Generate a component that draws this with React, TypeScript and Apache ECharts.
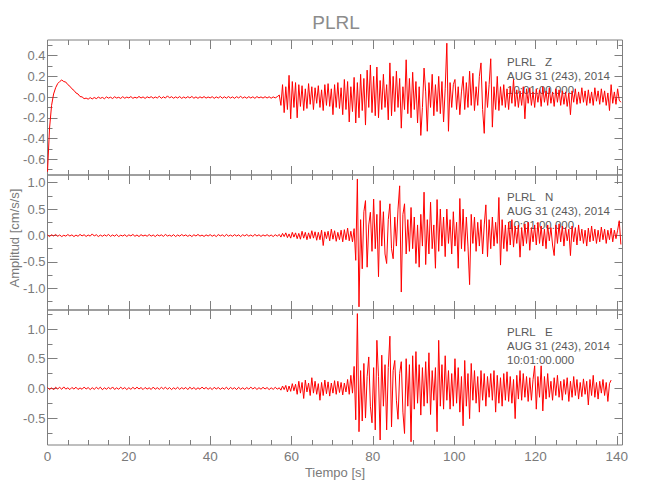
import React, { useEffect, useRef } from 'react';
import * as echarts from 'echarts';

const PRE_DT = 0.5;      // s, samples before 57 s
const CODA_T0 = 57;      // s, start of the coda samples
const CODA_DT = 0.4;     // s
const X_MAX = 141.4;

const X_MAJOR = [0, 20, 40, 60, 80, 100, 120, 140];
const X_LABELS = ['0', '20', '40', '60', '80', '100', '120', '140'];
const X_MINOR = [5, 10, 15, 25, 30, 35, 45, 50, 55, 65, 70, 75, 85, 90, 95, 105, 110, 115, 125, 130, 135];

// ---- Z component ----
const Z_RANGE = [-0.752, 0.551];
const Z_TICKS = [-0.6, -0.4, -0.2, 0, 0.2, 0.4];
const Z_TICK_LABELS = ['-0.6', '-0.4', '-0.2', '-0.0', '0.2', '0.4'];
const Z_MINOR = [-0.7, -0.5, -0.3, -0.1, 0.1, 0.3, 0.5];
const Z_PRE = [
  -0.72, -0.30, -0.08, 0.03, 0.09, 0.13, 0.15, 0.165, 0.15, 0.145,
  0.12, 0.105, 0.08, 0.065, 0.04, 0.03, 0.005, 0.002, -0.015, -0.01,
  -0.02, -0.005, -0.018, -0.004, -0.015, 0.000, -0.012, -0.003, -0.016, 0.002,
  -0.010, -0.001, -0.014, 0.003, -0.009, -0.002, -0.013, 0.004, -0.011, 0.000,
  -0.008, 0.005, -0.012, -0.001, -0.010, 0.006, -0.009, 0.002, -0.013, 0.003,
  -0.007, 0.004, -0.011, 0.001, -0.009, 0.008, -0.012, 0.003, -0.010, 0.012,
  -0.008, 0.004, -0.011, 0.002, -0.009, 0.005, -0.012, 0.001, -0.010, 0.004,
  -0.008, 0.006, -0.011, 0.002, -0.012, 0.003, -0.009, 0.005, -0.010, 0.001,
  -0.008, 0.004, -0.012, 0.002, -0.009, 0.006, -0.011, 0.003, -0.010, 0.005,
  -0.009, 0.002, -0.012, 0.004, -0.008, 0.007, -0.010, 0.002, -0.011, 0.004,
  -0.009, 0.003, -0.012, 0.005, -0.008, 0.002, -0.010, 0.004, -0.009, 0.003,
  -0.011, 0.002, -0.008, 0.004,
];
const Z_CODA = [
  0.02, -0.08, 0.12, -0.15, 0.10, -0.12, 0.21, -0.21, 0.15, -0.10,
  0.14, -0.20, 0.12, -0.09, 0.11, -0.13, 0.08, -0.11, 0.13, -0.07,
  0.10, -0.12, 0.09, -0.06, 0.11, -0.10, 0.07, -0.13, 0.12, -0.08,
  0.13, -0.09, 0.08, -0.17, 0.12, -0.10, 0.14, -0.11, 0.09, -0.17,
  0.17, -0.12, 0.15, -0.24, 0.10, -0.14, 0.19, -0.25, 0.14, -0.20,
  0.22, -0.13, 0.18, -0.27, 0.26, -0.10, 0.31, -0.15, 0.20, -0.18,
  0.29, -0.20, 0.16, -0.12, 0.22, -0.10, 0.12, -0.22, 0.33, -0.18,
  0.20, -0.14, 0.25, -0.10, 0.18, -0.30, 0.10, -0.12, 0.36, -0.16,
  0.18, -0.20, 0.24, -0.12, 0.15, -0.25, 0.10, -0.37, -0.10, 0.28,
  0.05, -0.33, 0.14, -0.10, 0.22, -0.18, 0.12, -0.14, 0.20, -0.16,
  0.15, -0.24, 0.08, 0.52, -0.33, 0.14, -0.10, 0.12, 0.17, -0.12,
  0.10, -0.17, 0.05, 0.20, -0.12, 0.14, -0.10, 0.25, -0.08, 0.23,
  -0.13, 0.10, -0.08, 0.20, 0.33, -0.12, -0.35, 0.15, -0.10, 0.12,
  0.37, -0.29, 0.10, -0.12, 0.20, -0.13, 0.10, -0.08, 0.12, -0.10,
  0.08, -0.12, 0.10, -0.06, 0.17, -0.09, 0.07, -0.10, 0.06, -0.08,
  0.10, -0.21, 0.08, -0.06, 0.09, -0.08, 0.05, -0.10, 0.08, -0.05,
  0.07, -0.09, 0.10, -0.05, 0.06, -0.08, 0.09, -0.06, 0.05, -0.09,
  0.08, -0.05, 0.07, -0.08, 0.06, -0.07, 0.05, -0.09, 0.04, -0.17,
  0.06, -0.05, 0.08, -0.07, 0.05, -0.06, 0.09, -0.05, 0.06, -0.08,
  0.07, -0.06, 0.05, -0.08, 0.09, -0.04, 0.06, -0.07, 0.08, -0.05,
  0.06, -0.08, 0.04, -0.13, 0.12, -0.06, 0.05, -0.07, 0.08, -0.03, -0.05,
];

// ---- N component ----
const N_RANGE = [-1.41, 1.145];
const N_TICKS = [-1.0, -0.5, 0, 0.5, 1.0];
const N_TICK_LABELS = ['-1.0', '-0.5', '0.0', '0.5', '1.0'];
const N_MINOR = [-1.25, -0.75, -0.25, 0.25, 0.75];
const N_PRE = [
  0.01, -0.02, 0.015, -0.01, 0.02, -0.015, 0.01, -0.02, 0.005, -0.012,
  0.018, -0.01, 0.012, -0.02, 0.008, -0.015, 0.02, -0.008, 0.014, -0.018,
  0.01, -0.012, 0.03, -0.01, 0.015, -0.02, 0.008, -0.014, 0.012, -0.01,
  0.02, -0.016, 0.01, -0.012, 0.018, -0.02, 0.006, -0.01, 0.014, -0.018,
  0.012, -0.008, 0.02, -0.015, 0.01, -0.02, 0.016, -0.01, 0.008, -0.014,
  0.018, -0.012, 0.01, -0.02, 0.014, -0.008, 0.012, -0.016, 0.02, -0.01,
  0.006, -0.014, 0.016, -0.02, 0.01, -0.012, 0.018, -0.008, 0.012, -0.016,
  0.01, -0.02, 0.014, -0.01, 0.02, -0.012, 0.008, -0.018, 0.012, -0.01,
  0.016, -0.014, 0.01, -0.02, 0.018, -0.008, 0.012, -0.016, 0.02, -0.012,
  0.008, -0.014, 0.016, -0.01, 0.012, -0.02, 0.014, -0.008, 0.018, -0.012,
  0.01, -0.016, 0.02, -0.01, 0.014, -0.018, 0.012, -0.01, 0.016, -0.014,
  0.01, -0.02, 0.015, -0.012,
];
const N_CODA = [
  0.02, -0.03, 0.04, -0.02, 0.05, -0.04, 0.03, -0.05, 0.06, -0.03,
  0.05, -0.06, 0.04, -0.07, 0.08, -0.05, 0.06, -0.08, 0.05, -0.06,
  0.09, -0.05, 0.07, -0.09, 0.06, -0.08, 0.10, -0.19, 0.07, -0.06,
  0.08, -0.10, 0.12, -0.07, 0.09, -0.11, 0.06, -0.08, 0.10, -0.12,
  0.11, -0.08, 0.14, -0.10, 0.08, -0.12, 0.13, -0.47, 1.07, -1.35,
  0.30, -0.63, 0.45, 0.66, -0.60, 0.20, 0.44, -0.30, 0.69, -0.25,
  0.40, -0.78, 0.66, -0.20, 0.45, -0.35, -0.53, 0.30, 0.60, -0.25,
  -0.44, 0.35, -0.20, 0.50, 0.94, -1.07, 0.40, 0.60, -0.35, 0.30,
  -0.30, 0.53, -0.25, 0.35, -0.53, 0.20, -0.60, 0.40, -0.20, 0.82,
  -0.55, 0.30, -0.35, 0.63, -0.25, 0.20, -0.62, 0.68, -0.30, 0.50,
  -0.20, 0.35, -0.40, 0.50, -0.15, 0.30, -0.35, 0.45, -0.20, 0.25,
  -0.62, 0.70, -0.25, 0.50, -0.30, 0.35, -0.20, -0.93, 0.40, -0.15,
  0.35, -0.30, 0.25, -0.20, 0.30, -0.35, 0.20, 0.58, -0.40, 0.30,
  -0.25, 0.35, -0.20, 0.25, -0.15, 0.72, -0.56, 0.30, -0.25, 0.20,
  -0.30, 0.25, -0.18, 0.30, -0.22, 0.18, -0.15, 0.20, -0.41, 0.15,
  -0.20, 0.22, -0.15, 0.25, -0.28, 0.15, -0.12, 0.20, -0.18, 0.25,
  -0.15, 0.18, -0.20, 0.12, -0.25, 0.20, -0.10, 0.15, -0.18, -0.38,
  0.20, -0.15, 0.22, -0.12, 0.18, -0.20, 0.15, -0.10, 0.12, -0.38,
  0.18, -0.12, 0.15, -0.18, 0.20, -0.10, 0.12, -0.15, 0.10, -0.20,
  0.14, -0.12, 0.18, -0.10, 0.12, -0.15, 0.10, -0.12, 0.16, -0.08,
  0.12, -0.15, 0.10, -0.08, 0.14, -0.12, 0.10, -0.06, 0.10, 0.28, -0.17,
];

// ---- E component ----
const E_RANGE = [-0.954, 1.321];
const E_TICKS = [-0.5, 0, 0.5, 1.0];
const E_TICK_LABELS = ['-0.5', '0.0', '0.5', '1.0'];
const E_MINOR = [-0.75, -0.25, 0.25, 0.75, 1.25];
const E_PRE = [
  0.015, -0.02, 0.01, -0.025, 0.02, -0.01, 0.018, -0.015, 0.025, -0.012,
  0.01, -0.02, 0.016, -0.012, 0.02, -0.018, 0.008, -0.015, 0.022, -0.01,
  0.014, -0.02, 0.012, -0.016, 0.018, -0.01, 0.02, -0.022, 0.01, -0.014,
  0.016, -0.012, 0.024, -0.018, 0.01, -0.015, 0.02, -0.01, 0.014, -0.02,
  0.012, -0.016, 0.018, -0.012, 0.02, -0.01, 0.014, -0.02, 0.016, -0.012,
  0.01, -0.018, 0.022, -0.014, 0.012, -0.016, 0.018, -0.01, 0.02, -0.015,
  0.014, -0.02, 0.01, -0.012, 0.018, -0.016, 0.012, -0.01, 0.016, -0.02,
  0.02, -0.012, 0.014, -0.018, 0.01, -0.014, 0.022, -0.01, 0.016, -0.015,
  0.012, -0.02, 0.018, -0.01, 0.014, -0.016, 0.01, -0.012, 0.02, -0.018,
  0.016, -0.01, 0.012, -0.02, 0.018, -0.014, 0.01, -0.016, 0.014, -0.012,
  0.02, -0.01, 0.016, -0.018, 0.012, -0.014, 0.018, -0.01, 0.014, -0.02,
  0.01, -0.016, 0.018, -0.012,
];
const E_CODA = [
  0.01, -0.03, 0.04, -0.02, 0.05, -0.06, 0.04, -0.05, 0.08, -0.04,
  0.07, -0.10, 0.12, -0.08, 0.10, -0.17, 0.14, -0.06, 0.09, -0.12,
  0.18, -0.08, 0.12, -0.10, 0.08, -0.20, 0.10, -0.12, 0.14, -0.09,
  0.11, -0.13, 0.09, -0.08, 0.13, -0.10, 0.12, -0.07, 0.10, -0.11,
  0.09, -0.06, 0.15, -0.10, 0.22, -0.08, 0.37, -0.53, 1.26, -0.73,
  0.30, -0.55, 0.42, -0.50, 0.20, 0.53, -0.30, -0.58, 0.35, -0.70,
  0.81, 0.20, -0.87, 0.56, -0.30, 0.40, -0.70, 0.35, 0.88, -0.65,
  0.30, 0.47, -0.20, -0.52, 0.25, 0.45, -0.40, -0.76, 0.50, -0.30,
  0.40, -0.90, 0.55, -0.35, 0.62, -0.25, 0.40, -0.45, 0.35, -0.30,
  0.45, -0.25, 0.60, -0.44, 0.30, -0.20, 0.35, -0.73, 0.81, -0.30,
  0.40, -0.35, 0.55, -0.20, 0.30, -0.35, 0.25, -0.30, 0.50, -0.25,
  0.35, -0.40, 0.20, -0.63, 0.47, -0.30, 0.25, -0.51, 0.42, -0.20,
  0.30, -0.25, 0.20, -0.40, 0.30, -0.20, 0.25, -0.30, 0.20, -0.15,
  0.25, -0.20, 0.30, -0.40, 0.22, -0.25, 0.18, -0.30, 0.25, -0.20,
  0.28, -0.22, 0.20, -0.25, 0.15, -0.51, 0.22, -0.18, 0.30, -0.20,
  0.25, -0.15, 0.20, -0.22, 0.18, -0.20, 0.15, 0.38, -0.35, 0.20,
  -0.15, 0.38, -0.38, 0.20, -0.18, 0.25, -0.15, 0.12, -0.20, 0.18,
  -0.12, 0.22, -0.15, 0.12, -0.20, 0.15, -0.10, 0.18, -0.22, 0.12,
  -0.15, 0.20, -0.12, 0.15, -0.18, 0.10, -0.14, 0.16, -0.10, 0.12,
  -0.28, 0.15, -0.12, 0.22, -0.15, 0.10, -0.18, 0.12, -0.08, 0.15,
  -0.12, 0.10, -0.22, 0.08, 0.14,
];

const STATION = 'PLRL';
const COMPONENTS = ['Z', 'N', 'E'];
const DATE_LINE = 'AUG 31 (243), 2014';
const TIME_LINE = '10:01:00.000';

const FONT = "'Liberation Sans', Arial, sans-serif";
const AXIS_GRAY = '#7f7f7f';
const LABEL_GRAY = '#7a7a7a';
const TEXT_GRAY = '#5a5a5a';

const GRID_LEFT = 47.5;
const GRID_WIDTH = 575;
const GRID_TOPS = [40, 175, 310];
const GRID_H = 135;

function trace(pre: number[], coda: number[]) {
  const out: number[][] = [];
  pre.forEach((v, i) => out.push([+(i * PRE_DT).toFixed(3), v]));
  coda.forEach((v, i) => out.push([+(CODA_T0 + i * CODA_DT).toFixed(3), v]));
  return out;
}

export default function App() {
  const ref = useRef<HTMLDivElement>(null);
  useEffect(() => {
    if (!ref.current) return;
    const chart = echarts.init(ref.current, undefined, { renderer: 'svg' });
    const panels = [
      { range: Z_RANGE, ticks: Z_TICKS, labels: Z_TICK_LABELS, minor: Z_MINOR, data: trace(Z_PRE, Z_CODA) },
      { range: N_RANGE, ticks: N_TICKS, labels: N_TICK_LABELS, minor: N_MINOR, data: trace(N_PRE, N_CODA) },
      { range: E_RANGE, ticks: E_TICKS, labels: E_TICK_LABELS, minor: E_MINOR, data: trace(E_PRE, E_CODA) },
    ];
    const grids: any[] = [];
    const xAxes: any[] = [];
    const yAxes: any[] = [];
    const series: any[] = [];
    const graphics: any[] = [];
    const tickStyle = { color: AXIS_GRAY, width: 1 };
    panels.forEach((p, g) => {
      grids.push({
        left: GRID_LEFT, top: GRID_TOPS[g], width: GRID_WIDTH, height: GRID_H,
        show: true, borderColor: AXIS_GRAY, borderWidth: 1, backgroundColor: 'transparent',
        containLabel: false, outerBoundsMode: 'none',
      });
      const xBase = (pos: string, vals: number[], len: number, showLabel: boolean) => ({
        type: 'value', gridIndex: g, position: pos, min: 0, max: X_MAX,
        axisLine: { show: false, onZero: false },
        axisTick: { show: true, inside: true, length: len, customValues: vals, lineStyle: tickStyle },
        axisLabel: {
          show: showLabel, customValues: vals, margin: 4, color: LABEL_GRAY, fontSize: 13.5, fontFamily: FONT,
          formatter: (v: number) => X_LABELS[X_MAJOR.indexOf(Math.round(v))] ?? '',
        },
        splitLine: { show: false },
      });
      xAxes.push(xBase('bottom', X_MAJOR, 9, g === 2));
      xAxes.push(xBase('bottom', X_MINOR, 5, false));
      xAxes.push(xBase('top', X_MAJOR, 9, false));
      xAxes.push(xBase('top', X_MINOR, 5, false));
      const yBase = (pos: string, vals: number[], len: number, showLabel: boolean) => ({
        type: 'value', gridIndex: g, position: pos, min: p.range[0], max: p.range[1],
        axisLine: { show: false, onZero: false },
        axisTick: { show: true, inside: true, length: len, customValues: vals, lineStyle: tickStyle },
        axisLabel: {
          show: showLabel, customValues: vals, margin: 2, color: LABEL_GRAY, fontSize: 13, fontFamily: FONT,
          formatter: (v: number) => {
            const k = p.ticks.findIndex((t) => Math.abs(t - v) < 1e-6);
            return k >= 0 ? p.labels[k] : '';
          },
        },
        splitLine: { show: false },
      });
      yAxes.push(yBase('left', p.ticks, 10, true));
      yAxes.push(yBase('left', p.minor, 5, false));
      yAxes.push(yBase('right', p.ticks, 8, false));
      yAxes.push(yBase('right', p.minor, 4, false));
      series.push({
        type: 'line', xAxisIndex: 4 * g, yAxisIndex: 4 * g, data: p.data,
        showSymbol: false, symbol: 'none', silent: true, z: 5, clip: true,
        lineStyle: { color: '#ff0000', width: 1 },
      });
      const top = GRID_TOPS[g];
      [`${STATION}   ${COMPONENTS[g]}`, DATE_LINE, TIME_LINE].forEach((txt, k) => {
        graphics.push({
          type: 'text', x: 507, y: top + [21.5, 35.5, 50][k], z: 0,
          style: {
            text: txt, fill: TEXT_GRAY, font: `11.5px ${FONT}`,
            textAlign: 'left', textVerticalAlign: 'middle', align: 'left', verticalAlign: 'middle',
          },
        });
      });
    });
    graphics.push({
      type: 'text', x: 336, y: 22, z: 0,
      style: { text: STATION, fill: '#8c8c8c', font: `19px ${FONT}`, textAlign: 'center', textVerticalAlign: 'middle', align: 'center', verticalAlign: 'middle' },
    });
    graphics.push({
      type: 'text', x: 335, y: 472, z: 0,
      style: { text: 'Tiempo [s]', fill: LABEL_GRAY, font: `13px ${FONT}`, textAlign: 'center', textVerticalAlign: 'middle', align: 'center', verticalAlign: 'middle' },
    });
    graphics.push({
      type: 'text', x: 14, y: 238, rotation: Math.PI / 2, z: 0,
      style: { text: 'Amplitud [cm/s/s]', fill: LABEL_GRAY, font: `13px ${FONT}`, textAlign: 'center', textVerticalAlign: 'middle', align: 'center', verticalAlign: 'middle' },
    });
    chart.setOption({
      animation: false,
      backgroundColor: '#ffffff',
      grid: grids,
      xAxis: xAxes,
      yAxis: yAxes,
      series,
      graphic: graphics,
    });
    return () => chart.dispose();
  }, []);
  return (
    <div
      ref={ref}
      style={{ position: 'fixed', left: 0, top: 0, width: 650, height: 500, background: '#fff' }}
    />
  );
}
